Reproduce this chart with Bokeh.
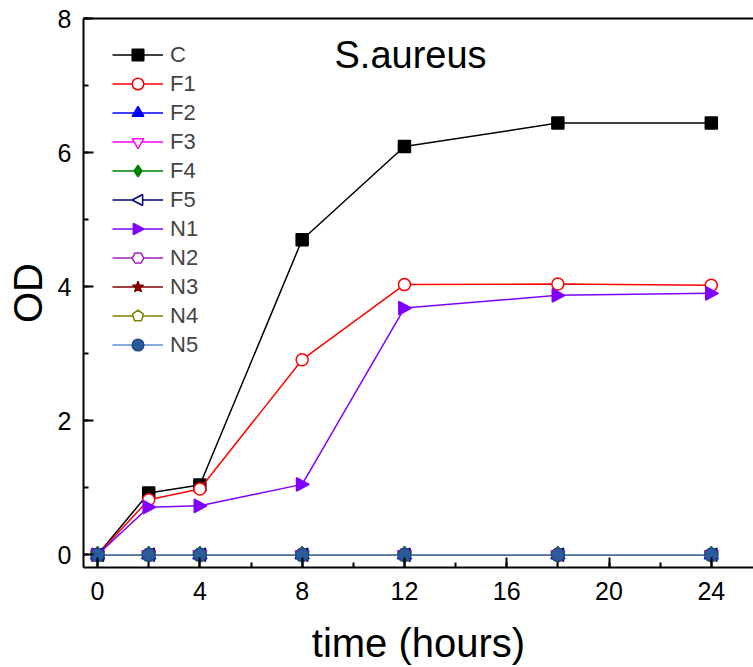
import math
from bokeh.plotting import figure
from bokeh.models import SingleIntervalTicker, LinearAxis, FixedTicker, Legend, Label, Range1d, CustomJS
from bokeh.embed import file_html
from bokeh.resources import INLINE

# ---- data ----
time_h = [0, 2, 4, 8, 12, 18, 24]
C  = [0, 0.92, 1.04, 4.70, 6.09, 6.44, 6.44]
F1 = [0, 0.82, 0.98, 2.91, 4.03, 4.04, 4.02]
F2 = [0, 0, 0, 0, 0, 0, 0]
F3 = [0, 0, 0, 0, 0, 0, 0]
F4 = [0, 0, 0, 0, 0, 0, 0]
F5 = [0, 0, 0, 0, 0, 0, 0]
N1 = [0, 0.71, 0.73, 1.05, 3.68, 3.87, 3.90]
N2 = [0, 0, 0, 0, 0, 0, 0]
N3 = [0, 0, 0, 0, 0, 0, 0]
N4 = [0, 0, 0, 0, 0, 0, 0]
N5 = [0, 0, 0, 0, 0, 0, 0]
series_names = ["C", "F1", "F2", "F3", "F4", "F5", "N1", "N2", "N3", "N4", "N5"]
series_values = [C, F1, F2, F3, F4, F5, N1, N2, N3, N4, N5]
x_ticks_interval = 4
y_ticks_interval = 2
title_text = "S.aureus"
x_label = "time (hours)"
y_label = "OD"

FONT = "Liberation Sans"

def painter(body):
    return CustomJS(code="""
export default (args, obj, {ctx, i, r, visuals}) => {
  ctx.beginPath()
  %s
  ctx.closePath()
  visuals.fill.apply(ctx, i)
  visuals.line.apply(ctx, i)
}
""" % body)

marker_defs = {
    "@tri_right": painter("ctx.moveTo(r, 0); ctx.lineTo(-0.8*r, 0.95*r); ctx.lineTo(-0.8*r, -0.95*r);"),
    "@tri_left": painter("ctx.moveTo(-r, 0); ctx.lineTo(0.8*r, 0.95*r); ctx.lineTo(0.8*r, -0.95*r);"),
    "@pentagon": painter(
        "for (let k = 0; k < 5; k++) { const t = -Math.PI/2 + k*2*Math.PI/5;"
        " const px = r*Math.cos(t), py = r*Math.sin(t);"
        " if (k == 0) ctx.moveTo(px, py); else ctx.lineTo(px, py); }"),
}

styles = {
    "C":  ("#000000", "square", "#000000", "#000000", 12),
    "F1": ("#ff0000", "circle", "#ffffff", "#ff0000", 12),
    "F2": ("#0000ff", "triangle", "#0000ff", "#0000ff", 14),
    "F3": ("#ff00ff", "inverted_triangle", "#ffffff", "#ff00ff", 14),
    "F4": ("#008000", "diamond", "#008000", "#008000", 16),
    "F5": ("#000080", "@tri_left", "#ffffff", "#000080", 14),
    "N1": ("#8000ff", "@tri_right", "#8000ff", "#8000ff", 14),
    "N2": ("#a020c0", "hex", "#ffffff", "#a020c0", 13),
    "N3": ("#800000", "star", "#800000", "#800000", 14),
    "N4": ("#808000", "@pentagon", "#ffffff", "#808000", 14),
    "N5": ("#5b8fd0", "circle", "#2b5b9b", "#1e4a86", 13),
}

p = figure(width=753, height=667, output_backend="svg", toolbar_location=None,
           x_range=Range1d(-0.55, 25.65), y_range=Range1d(-0.19, 8.0),
           min_border_left=83, min_border_right=0, min_border_top=18, min_border_bottom=100)
p.outline_line_color = None
p.xgrid.grid_line_color = None
p.ygrid.grid_line_color = None

for ax, interval in ((p.xaxis[0], x_ticks_interval), (p.yaxis[0], y_ticks_interval)):
    ax.ticker = SingleIntervalTicker(interval=interval, num_minor_ticks=2)
    ax.axis_line_width = 2
    ax.axis_line_color = "black"
    ax.major_tick_in = 10
    ax.major_tick_out = 0
    ax.minor_tick_in = 5
    ax.minor_tick_out = 0
    ax.major_tick_line_width = 2
    ax.minor_tick_line_width = 2
    ax.major_label_text_font = FONT
    ax.major_label_text_font_size = "25px"
    ax.major_label_text_color = "black"
    ax.axis_label_text_font = FONT
    ax.axis_label_text_font_style = "normal"
    ax.axis_label_text_color = "black"

p.xaxis[0].axis_label = x_label
p.xaxis[0].axis_label_text_font_size = "40px"
p.xaxis[0].major_label_standoff = 14
p.xaxis[0].axis_label_standoff = 18
p.yaxis[0].axis_label = y_label
p.yaxis[0].axis_label_text_font_size = "40px"
p.yaxis[0].major_label_standoff = 12
p.yaxis[0].axis_label_standoff = 5

top_axis = LinearAxis(ticker=FixedTicker(ticks=[]), axis_line_width=2, axis_line_color="black",
                      major_tick_in=0, major_tick_out=0, minor_tick_in=0, minor_tick_out=0)
p.add_layout(top_axis, "above")

items = []
for name, vals in zip(series_names, series_values):
    lc, mk, fc, mlc, sz = styles[name]
    r1 = p.line(time_h, vals, line_color=lc, line_width=1.5)
    kw = {}
    if mk.startswith("@"):
        kw["defs"] = {mk: marker_defs[mk]}
    r2 = p.scatter(time_h, vals, marker=mk, size=sz, fill_color=fc, line_color=mlc,
                   line_width=1.5, **kw)
    items.append((name, [r1, r2]))

legend = Legend(items=items, location=(29, 208), margin=0, padding=0,
                glyph_width=51, glyph_height=29, label_height=29, spacing=0,
                label_standoff=7, label_text_font=FONT, label_text_font_size="22px",
                background_fill_alpha=0, border_line_color=None)
p.add_layout(legend)

title = Label(x=12.24, y=7.45, text=title_text, text_align="center", text_baseline="alphabetic",
              text_font=FONT, text_font_size="38px", text_color="black")
p.add_layout(title)

open("out.html", "w").write(file_html(p, INLINE))
